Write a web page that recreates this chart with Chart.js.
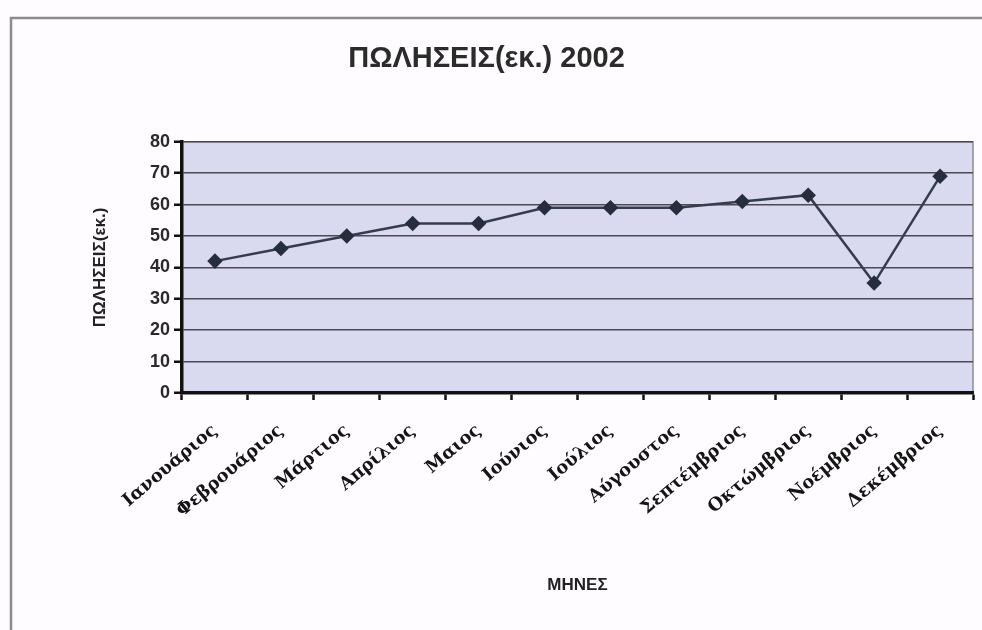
<!DOCTYPE html>
<html lang="el">
<head>
<meta charset="utf-8">
<title>ΠΩΛΗΣΕΙΣ(εκ.) 2002</title>
<script src="https://cdn.jsdelivr.net/npm/chart.js@4/dist/chart.umd.min.js"></script>
<style>
  html, body { margin: 0; padding: 0; background: #fefcfe; }
  #chart { display: block; }
</style>
</head>
<body>
<canvas id="chart" width="982" height="630"></canvas>
<script>
(function () {
  'use strict';

  // Μήνες και πωλήσεις (σε εκατομμύρια)
  const mhnes = [
    'Ιανουάριος', 'Φεβρουάριος', 'Μάρτιος', 'Απρίλιος', 'Μαιος', 'Ιούνιος',
    'Ιούλιος', 'Αύγουστος', 'Σεπτέμβριος', 'Οκτώμβριος', 'Νοέμβριος', 'Δεκέμβριος'
  ];
  const pwlhseis = [42, 46, 50, 54, 54, 59, 59, 59, 61, 63, 35, 69];
  const yTicks = [0, 10, 20, 30, 40, 50, 60, 70, 80];

  const titlos = 'ΠΩΛΗΣΕΙΣ(εκ.) 2002';
  const titlosY = 'ΠΩΛΗΣΕΙΣ(εκ.)';
  const titlosX = 'ΜΗΝΕΣ';

  // Φόντο περιοχής γραφήματος, πλαίσιο και περίγραμμα σελίδας
  const plaisio = {
    id: 'plaisio',
    beforeDraw(chart) {
      const { ctx, chartArea: a } = chart;
      ctx.save();
      ctx.fillStyle = '#d9d9ef';
      ctx.fillRect(a.left, a.top, a.right - a.left, a.bottom - a.top);
      ctx.strokeStyle = '#8a8a98';
      ctx.lineWidth = 1.5;
      ctx.strokeRect(a.left, a.top, a.right - a.left, a.bottom - a.top);
      // περίγραμμα του φύλλου
      ctx.strokeStyle = '#8c8c8c';
      ctx.lineWidth = 2.5;
      ctx.beginPath();
      ctx.moveTo(11, chart.height);
      ctx.lineTo(11, 18);
      ctx.lineTo(chart.width, 18);
      ctx.stroke();
      ctx.restore();
    }
  };

  new Chart(document.getElementById('chart'), {
    type: 'line',
    data: {
      labels: mhnes,
      datasets: [{
        label: 'Πωλήσεις',
        data: pwlhseis,
        borderColor: '#353c4e',
        borderWidth: 2.5,
        pointStyle: 'rectRot',
        pointRadius: 6,
        pointBackgroundColor: '#262d3c',
        pointBorderColor: '#262d3c',
        tension: 0
      }]
    },
    options: {
      responsive: false,
      animation: false,
      layout: { padding: { left: 0, right: 9, top: 0, bottom: 0 } },
      plugins: {
        legend: { display: false },
        tooltip: { enabled: false },
        title: {
          display: true,
          text: titlos,
          color: '#2b2b2b',
          font: { family: 'Liberation Sans', size: 29, weight: 'bold' },
          padding: { top: 42, bottom: 65 }
        }
      },
      scales: {
        x: {
          offset: true,
          afterFit: (s) => { s.height = 237; },
          grid: {
            offset: true,
            drawOnChartArea: false,
            drawTicks: true,
            tickLength: 7,
            tickWidth: 2.5,
            tickColor: '#111'
          },
          border: { color: '#111', width: 3.5 },
          ticks: {
            autoSkip: false,
            maxRotation: 40,
            minRotation: 40,
            padding: 20,
            color: '#151515',
            font: { family: "'DejaVu Serif', serif", size: 18, weight: 'bold' }
          },
          title: {
            display: true,
            text: titlosX,
            color: '#222',
            font: { family: 'Liberation Sans', size: 17, weight: 'bold' },
            padding: { top: 0, bottom: 34 }
          }
        },
        y: {
          min: 0,
          max: 80,
          afterFit: (s) => { s.width = 182; },
          afterBuildTicks: (s) => { s.ticks = yTicks.map(v => ({ value: v })); },
          grid: {
            color: '#4a4a56',
            lineWidth: 1.5,
            drawTicks: true,
            tickLength: 8,
            tickWidth: 2.5,
            tickColor: '#111'
          },
          border: { color: '#111', width: 3.5 },
          ticks: {
            padding: 4,
            color: '#2a2a2a',
            font: { family: 'Liberation Sans', size: 18, weight: 'bold' }
          },
          title: {
            display: true,
            text: titlosY,
            color: '#222',
            font: { family: 'Liberation Sans', size: 17, weight: 'bold' },
            padding: { top: 90, bottom: 0 }
          }
        }
      }
    },
    plugins: [plaisio]
  });
})();
</script>
</body>
</html>
